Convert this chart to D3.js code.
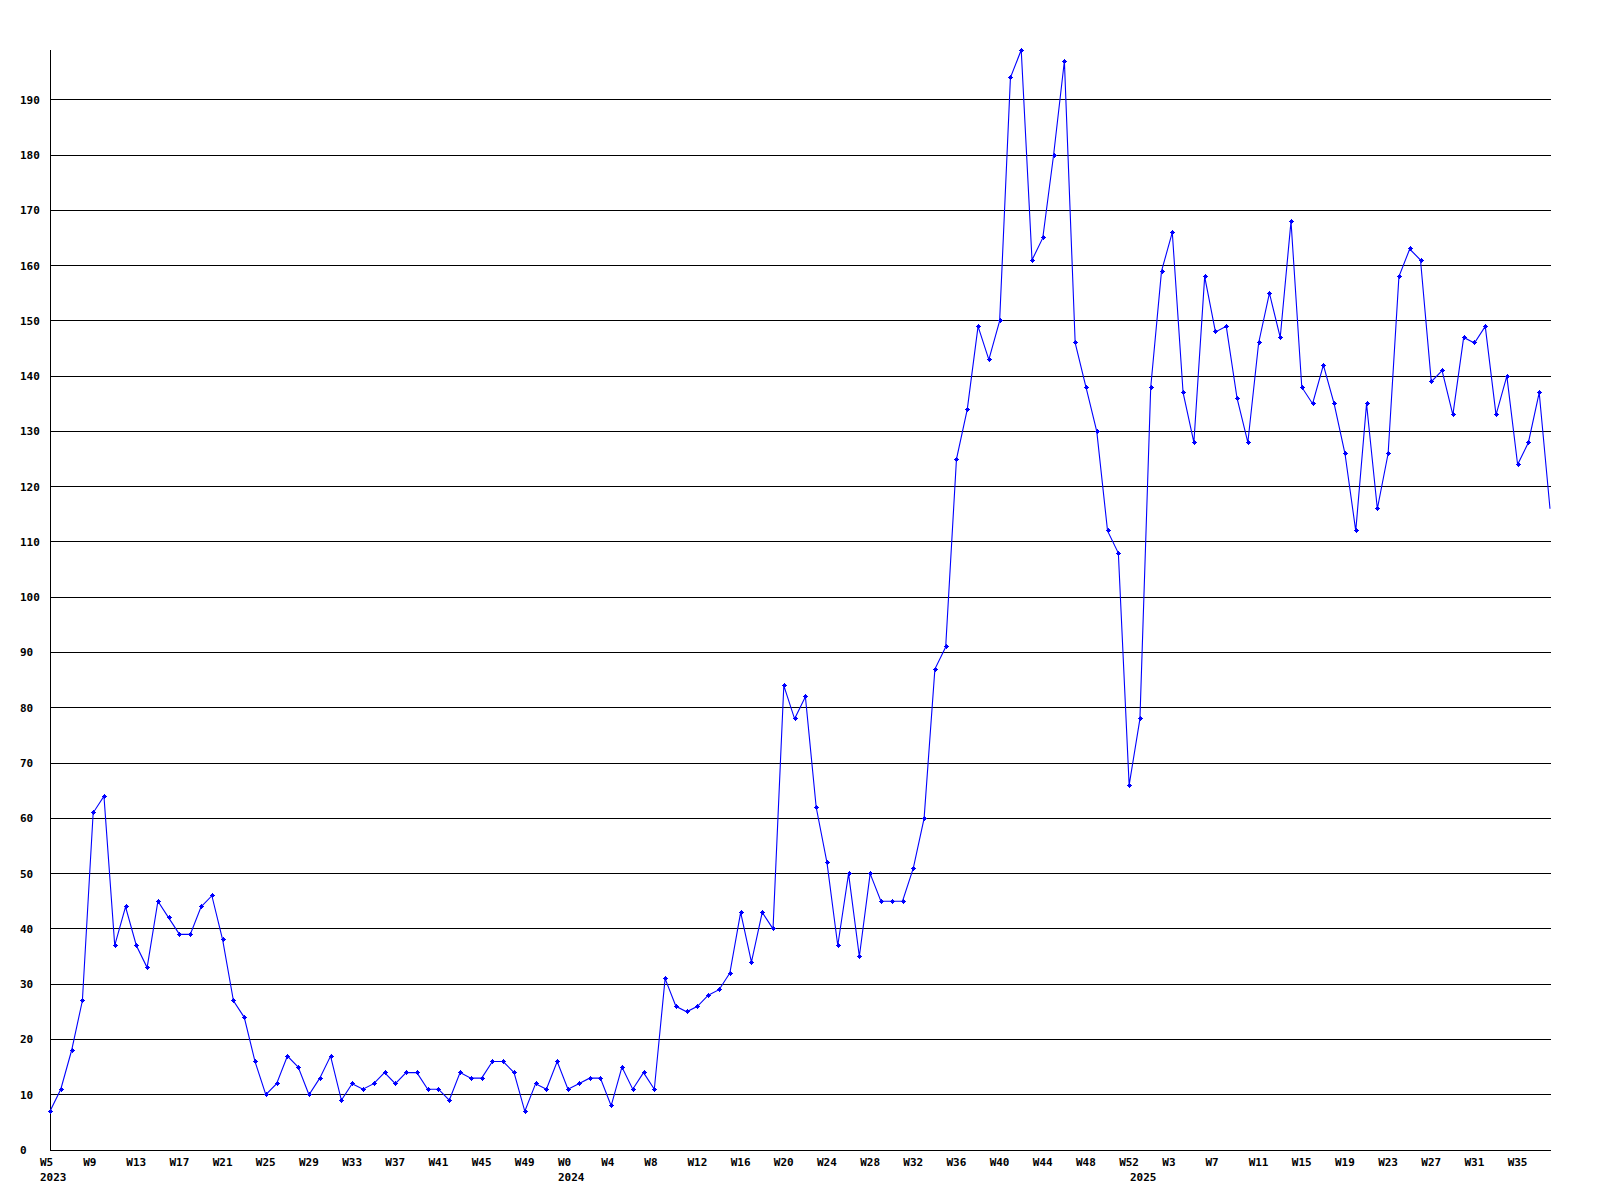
<!DOCTYPE html>
<html>
<head>
<meta charset="utf-8">
<script src="https://cdn.jsdelivr.net/npm/d3@7/dist/d3.min.js"></script>
<style>
  html, body { margin: 0; padding: 0; background: #ffffff; }
  svg { display: block; }
  text { font-family: "DejaVu Sans Mono", "Liberation Mono", monospace; font-weight: bold; font-size: 11px; fill: #000; }
</style>
</head>
<body>
<svg id="chart" width="1600" height="1200"></svg>
<script>
// ---- data ----
const years = [2023, 2024, 2025];
const firstWeek = [5, 0, 0];
const lastWeek = [52, 52, 38];

const values = [
  7, 11, 18, 27, 61, 64, 37, 44, 37, 33, 45, 42, 39, 39, 44, 46, 38, 27, 24, 16,
  10, 12, 17, 15, 10, 13, 17, 9, 12, 11, 12, 14, 12, 14, 14, 11, 11, 9, 14, 13,
  13, 16, 16, 14, 7, 12, 11, 16,
  11, 12, 13, 13, 8, 15, 11, 14, 11, 31, 26, 25, 26, 28, 29, 32, 43, 34, 43, 40,
  84, 78, 82, 62, 52, 37, 50, 35, 50, 45, 45, 45, 51, 60, 87, 91, 125, 134, 149, 143,
  150, 194, 199, 161, 165, 180, 197, 146, 138, 130, 112, 108, 66,
  78, 138, 159, 166, 137, 128, 158, 148, 149, 136, 128, 146, 155, 147, 168, 138, 135, 142, 135, 126,
  112, 135, 116, 126, 158, 163, 161, 139, 141, 133, 147, 146, 149, 133, 140, 124, 128, 137, 116
];

const yTicks = [0, 10, 20, 30, 40, 50, 60, 70, 80, 90, 100, 110, 120, 130, 140, 150, 160, 170, 180, 190];
const xLabelEvery = 4;

// build categories from the week ranges
const categories = [];
years.forEach((yr, k) => {
  for (let w = firstWeek[k]; w <= lastWeek[k]; w++) {
    categories.push({ key: yr + "-W" + w, year: yr, week: w, first: w === firstWeek[k] });
  }
});
const data = categories.map((c, i) => ({ ...c, value: values[i] }));

// ---- layout ----
const mLeft = 50, mRight = 1550, mTop = 50, mBottom = 1150;
const svg = d3.select("#chart");

const x = d3.scalePoint().domain(categories.map(c => c.key)).range([mLeft, mRight]);
const y = d3.scaleLinear().domain([0, d3.max(values)]).range([mBottom, mTop]);
const py = v => Math.floor(y(v)) + 0.5;

// gridlines
svg.append("g")
  .selectAll("line")
  .data(yTicks.filter(t => t > 0))
  .join("line")
  .attr("x1", mLeft).attr("x2", mRight + 1)
  .attr("y1", d => py(d))
  .attr("y2", d => py(d))
  .attr("stroke", "#000").attr("stroke-width", 1)
  .attr("shape-rendering", "crispEdges");

// axes lines
svg.append("line")
  .attr("x1", mLeft + 0.5).attr("x2", mLeft + 0.5)
  .attr("y1", mTop).attr("y2", py(0) + 0.5)
  .attr("stroke", "#000").attr("shape-rendering", "crispEdges");
svg.append("line")
  .attr("x1", mLeft).attr("x2", mRight + 1)
  .attr("y1", py(0)).attr("y2", py(0))
  .attr("stroke", "#000").attr("shape-rendering", "crispEdges");

// y labels
svg.append("g")
  .selectAll("text")
  .data(yTicks)
  .join("text")
  .attr("x", 20)
  .attr("y", d => y(d))
  .attr("dy", "0.36em")
  .text(d => d);

// x labels
const xl = svg.append("g");
xl.selectAll("text.wk")
  .data(data.filter((d, i) => i % xLabelEvery === 0))
  .join("text")
  .attr("class", "wk")
  .attr("x", d => x(d.key) - 10)
  .attr("y", 1162)
  .attr("dy", "0.36em")
  .text(d => "W" + d.week);
xl.selectAll("text.yr")
  .data(data.filter(d => d.first))
  .join("text")
  .attr("class", "yr")
  .attr("x", d => x(d.key) - 10)
  .attr("y", 1177)
  .attr("dy", "0.36em")
  .text(d => d.year);

// line
const line = d3.line().x(d => x(d.key)).y(d => y(d.value));
svg.append("path")
  .datum(data)
  .attr("d", line)
  .attr("fill", "none")
  .attr("stroke", "#0000ff")
  .attr("stroke-width", 1.1);

// markers (pixel diamond)
const marker = "M-0.5,-2.5h1v1h1v1h1v1h-1v1h-1v1h-1v-1h-1v-1h-1v-1h1v-1h1z";
svg.append("g")
  .selectAll("path")
  .data(data.filter((d, i) => i < data.length - 1))
  .join("path")
  .attr("d", marker)
  .attr("transform", d => `translate(${Math.round(x(d.key)) + 0.5},${py(d.value)})`)
  .attr("fill", "#0000ff")
  .attr("shape-rendering", "crispEdges");
</script>
</body>
</html>
